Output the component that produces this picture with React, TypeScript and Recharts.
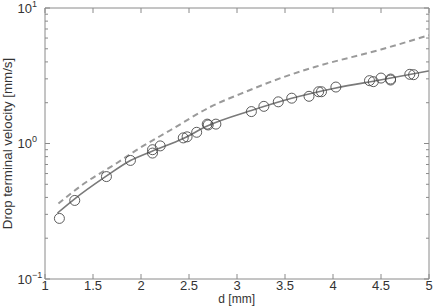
import React from 'react';
import { ComposedChart, Line, Scatter, XAxis, YAxis, Label } from 'recharts';

// measured drops
const diameters = [1.15, 1.31, 1.64, 1.89, 2.12, 2.12, 2.2, 2.44, 2.48, 2.58, 2.69, 2.7, 2.78, 3.15, 3.28, 3.43, 3.57, 3.75, 3.85, 3.88, 4.03, 4.38, 4.42, 4.5, 4.6, 4.6, 4.8, 4.84];
const velocities = [0.28, 0.38, 0.57, 0.75, 0.85, 0.9, 0.96, 1.1, 1.12, 1.21, 1.39, 1.37, 1.39, 1.72, 1.88, 2.03, 2.16, 2.23, 2.41, 2.41, 2.61, 2.91, 2.86, 3.04, 2.99, 2.94, 3.24, 3.22];

// fitted model (solid)
const fitD = [1.13, 1.3, 1.63, 1.89, 2.12, 2.44, 2.69, 3.15, 3.57, 4.03, 4.49, 5];
const fitV = [0.307, 0.386, 0.569, 0.749, 0.88, 1.089, 1.346, 1.752, 2.156, 2.57, 2.94, 3.43];

// reference model (dashed)
const refD = [1.14, 1.4, 1.75, 1.97, 2.31, 2.72, 3.11, 3.49, 3.81, 4.5, 5];
const refV = [0.361, 0.502, 0.718, 0.91, 1.258, 1.859, 2.44, 3.1, 3.67, 4.94, 6.3];

const xTicks = [1, 1.5, 2, 2.5, 3, 3.5, 4, 4.5, 5];
const yTicks = [0.1, 0.2, 0.3, 0.4, 0.5, 0.6, 0.7, 0.8, 0.9, 1, 2, 3, 4, 5, 6, 7, 8, 9, 10];
const yMajor = [0.1, 1, 10];
const yExp = ['\u22121', '0', '1'];

const points = diameters.map((d, i) => ({ x: d, y: velocities[i] }));
const fitLine = fitD.map((d, i) => ({ x: d, y: fitV[i] }));
const refLine = refD.map((d, i) => ({ x: d, y: refV[i] }));

const FONT = '"Liberation Sans", Arial, sans-serif';
const frame = '#8a8a8a';
const textColor = '#333';
const GAP = 4;

function LeftTick({ x, y, payload }: any) {
  const ax = x + GAP;
  const idx = yMajor.indexOf(payload.value);
  const len = idx >= 0 ? 5 : 3;
  return (
    <g>
      <line x1={ax} x2={ax + len} y1={y} y2={y} stroke={frame} />
      {idx >= 0 && (
        <text x={17.5} y={y + 4.5} fontSize={13} fill={textColor} fontFamily={FONT}>
          10
          <tspan dy={-6} fontSize={9}>{yExp[idx]}</tspan>
        </text>
      )}
    </g>
  );
}

function RightTick({ x, y, payload }: any) {
  const ax = x - GAP;
  const len = yMajor.includes(payload.value) ? 5 : 3;
  return <line x1={ax} x2={ax - len} y1={y} y2={y} stroke={frame} />;
}

function BottomTick({ x, y, payload }: any) {
  const ay = y - GAP;
  return (
    <g>
      <line x1={x} x2={x} y1={ay} y2={ay - 5} stroke={frame} />
      <text x={x} y={ay + 11} textAnchor="middle" fontSize={13} fill={textColor} fontFamily={FONT}>
        {payload.value}
      </text>
    </g>
  );
}

function TopTick({ x, y }: any) {
  const ay = y + GAP;
  return <line x1={x} x2={x} y1={ay} y2={ay + 5} stroke={frame} />;
}

const Ring = (p: any) => <circle cx={p.cx} cy={p.cy} r={5} fill="none" stroke="#4a4a4a" strokeWidth={0.9} />;

export default function App() {
  return (
    <div style={{ position: 'absolute', left: 0, top: 0, width: 437, height: 306, background: '#fff' }}>
      <ComposedChart width={437} height={306} margin={{ top: 7, right: 7, bottom: 0, left: 0 }}>
        <XAxis
          xAxisId="b"
          dataKey="x"
          type="number"
          domain={[1, 5]}
          ticks={xTicks}
          interval={0}
          allowDataOverflow
          height={27}
          tickSize={0}
          tickMargin={GAP}
          tickLine={false}
          stroke={frame}
          tick={<BottomTick />}
        >
          <Label
            content={() => (
              <text x={236.7} y={303.4} textAnchor="middle" fontSize={12} fill={textColor} fontFamily={FONT}>
                d [mm]
              </text>
            )}
          />
        </XAxis>
        <XAxis
          xAxisId="t"
          orientation="top"
          dataKey="x"
          type="number"
          domain={[1, 5]}
          ticks={xTicks}
          interval={0}
          allowDataOverflow
          height={1}
          tickSize={0}
          tickMargin={GAP}
          tickLine={false}
          stroke={frame}
          tick={<TopTick />}
        />
        <YAxis
          yAxisId="l"
          dataKey="y"
          type="number"
          scale="log"
          domain={[0.1, 10]}
          ticks={yTicks}
          interval={0}
          allowDataOverflow
          width={45}
          tickSize={0}
          tickMargin={GAP}
          tickLine={false}
          stroke={frame}
          tick={<LeftTick />}
        >
          <Label
            content={() => (
              <text
                x={12}
                y={143.5}
                transform="rotate(-90 12 143.5)"
                textAnchor="middle"
                fontSize={13.3}
                fill={textColor}
                fontFamily={FONT}
              >
                Drop terminal velocity [mm/s]
              </text>
            )}
          />
        </YAxis>
        <YAxis
          yAxisId="r"
          orientation="right"
          dataKey="y"
          type="number"
          scale="log"
          domain={[0.1, 10]}
          ticks={yTicks}
          interval={0}
          allowDataOverflow
          width={1}
          tickSize={0}
          tickMargin={GAP}
          tickLine={false}
          stroke={frame}
          tick={<RightTick />}
        />
        <Line
          xAxisId="b"
          yAxisId="l"
          data={refLine}
          dataKey="y"
          type="monotone"
          stroke="#9a9a9a"
          strokeWidth={2}
          strokeDasharray="6 4"
          dot={false}
          isAnimationActive={false}
        />
        <Line
          xAxisId="b"
          yAxisId="l"
          data={fitLine}
          dataKey="y"
          type="monotone"
          stroke="#7a7a7a"
          strokeWidth={1.6}
          dot={false}
          isAnimationActive={false}
        />
        <Scatter
          xAxisId="t"
          yAxisId="r"
          data={points}
          dataKey="y"
          shape={Ring}
          isAnimationActive={false}
        />
      </ComposedChart>
    </div>
  );
}
